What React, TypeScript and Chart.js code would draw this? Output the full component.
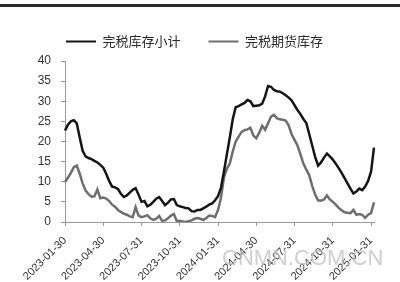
import React, { useEffect, useRef } from "react";
import { Chart, registerables } from "chart.js";

Chart.register(...registerables);

const seriesNames = ["完税库存小计", "完税期货库存"];

const tickLabels = [
  "2023-01-30", "2023-04-30", "2023-07-31", "2023-10-31", "2024-01-31",
  "2024-04-30", "2024-07-31", "2024-10-31", "2025-01-31",
];

const totalStock = [
  22.7, 24.2, 25.0, 25.3, 24.5, 21.0, 17.7, 16.3, 15.9, 15.6,
  15.2, 14.8, 14.2, 13.5, 12.0, 10.2, 8.8, 8.6, 8.2, 7.0,
  6.2, 6.6, 7.3, 8.0, 8.4, 6.8, 5.0, 5.2, 3.9, 4.3,
  5.0, 5.8, 6.2, 5.2, 4.2, 4.8, 5.6, 5.7, 4.2, 3.9,
  3.7, 3.5, 3.4, 2.7, 2.6, 3.0, 3.0, 3.4, 3.8, 4.3,
  4.6, 5.4, 6.4, 8.5, 12.5, 16.8, 21.0, 25.5, 28.5, 28.8,
  29.2, 29.6, 30.3, 30.0, 28.8, 28.9, 29.0, 29.4, 31.2, 33.8,
  33.6, 32.8, 32.5, 32.4, 32.0, 31.5, 30.9, 30.2, 29.0, 27.8,
  26.8, 25.6, 24.6, 21.8, 19.0, 16.2, 14.0, 14.8, 16.0, 17.0,
  16.3, 15.5, 14.5, 13.4, 12.2, 10.9, 9.6, 8.3, 7.1, 7.6,
  8.3, 7.9, 8.8, 10.2, 12.5, 18.5,
];

const futuresStock = [
  9.9, 11.0, 12.2, 13.6, 14.0, 12.0, 9.6, 7.8, 6.9, 6.3,
  6.4, 8.1, 5.9, 6.1, 5.8, 5.2, 4.3, 3.8, 3.0, 2.5,
  2.1, 1.8, 1.4, 1.2, 3.7, 1.6, 1.2, 1.4, 1.7, 0.9,
  0.5, 0.8, 1.5, 0.3, 0.4, 0.9, 1.6, 2.0, 0.2, 0.3,
  0.1, 0.0, 0.2, 0.4, 0.8, 1.0, 0.8, 0.5, 1.0, 1.6,
  1.5, 1.2, 3.0, 6.0, 11.0, 13.2, 14.5, 17.5, 20.0, 21.2,
  22.4, 22.8, 23.0, 23.4, 21.5, 20.8, 22.2, 23.9, 22.9, 24.5,
  26.2, 26.6, 25.8, 25.5, 25.4, 25.2, 24.0, 21.8, 20.4, 19.0,
  16.8, 14.5, 13.0, 11.6, 9.0, 6.8, 5.4, 5.3, 5.6, 6.6,
  5.6, 5.0, 4.3, 3.5, 2.9, 2.4, 2.3, 2.2, 3.0, 1.8,
  2.0, 1.8, 1.0, 1.8, 2.2, 4.9,
];

const weeksPerTick = 13;

export default function App() {
  const ref = useRef<HTMLCanvasElement | null>(null);

  useEffect(() => {
    if (!ref.current) return;
    const categories = totalStock.map((_, i) => String(i));
    const yFont = { family: "'Liberation Sans', Arial, sans-serif", size: 12 };
    const xFont = { family: "'Liberation Sans', Arial, sans-serif", size: 11 };
    const axisColor = "#9a9a9a";
    const chart = new Chart(ref.current, {
      type: "line",
      data: {
        labels: categories,
        datasets: [
          {
            label: seriesNames[0],
            data: totalStock,
            borderColor: "#151515",
            backgroundColor: "#151515",
            borderWidth: 2.5,
            pointRadius: 0,
            tension: 0,
          },
          {
            label: seriesNames[1],
            data: futuresStock,
            borderColor: "#6e6e6e",
            backgroundColor: "#6e6e6e",
            borderWidth: 2.5,
            pointRadius: 0,
            tension: 0,
          },
        ],
      },
      options: {
        animation: false,
        responsive: false,
        maintainAspectRatio: false,
        layout: { padding: { top: 7, left: 15, right: 26, bottom: 1 } },
        plugins: {
          tooltip: { enabled: false },
          title: {
            display: true,
            text: "",
            weight: 500,
            padding: 0,
            font: { size: 3, lineHeight: 1 },
          } as any,
          legend: {
            display: true,
            position: "top",
            labels: {
              boxWidth: 30,
              boxHeight: 2,
              padding: 28,
              color: "#2a2a2a",
              font: { family: "'Noto Sans CJK SC', sans-serif", size: 13 },
              generateLabels: (c: any) =>
                c.data.datasets.map((ds: any, i: number) => ({
                  text: ds.label,
                  fillStyle: ds.borderColor,
                  strokeStyle: ds.borderColor,
                  lineWidth: 0,
                  hidden: false,
                  datasetIndex: i,
                  fontColor: "#2a2a2a",
                })),
            },
          },
        },
        scales: {
          x: {
            type: "category",
            offset: false,
            afterFit: (scale: any) => {
              scale.height = 59;
            },
            grid: {
              display: true,
              drawOnChartArea: false,
              drawTicks: true,
              tickLength: 4,
              color: axisColor,
            },
            border: { display: true, color: axisColor },
            ticks: {
              autoSkip: false,
              maxRotation: 45,
              minRotation: 45,
              color: "#333",
              font: xFont,
              padding: 8,
              callback: (_v: any, index: number) =>
                index % weeksPerTick === 0 ? tickLabels[index / weeksPerTick] ?? "" : null,
            },
          },
          y: {
            min: 0,
            max: 40,
            afterFit: (scale: any) => {
              scale.width = 50;
            },
            grid: {
              display: true,
              drawOnChartArea: false,
              drawTicks: true,
              tickLength: 4,
              color: axisColor,
            },
            border: { display: true, color: axisColor },
            ticks: { stepSize: 5, color: "#333", font: yFont, padding: 10 },
          },
        },
      },
    });
    return () => chart.destroy();
  }, []);

  return (
    <div style={{ position: "fixed", left: 0, top: 0, width: 400, height: 282, background: "#fff", overflow: "hidden" }}>
      <div style={{ position: "absolute", left: 0, top: 4, width: 400, height: 3, background: "#2a2a2a" }} />
      <canvas ref={ref} width={400} height={282} style={{ position: "absolute", left: 0, top: 0, width: 400, height: 282 }} />
      <div
        style={{
          position: "absolute",
          left: 222,
          top: 245,
          fontFamily: "'Liberation Sans', Arial, sans-serif",
          fontSize: 22,
          color: "rgba(190,190,190,0.75)",
          pointerEvents: "none",
          whiteSpace: "nowrap",
        }}
      >
        CNMN.COM.CN
      </div>
    </div>
  );
}
